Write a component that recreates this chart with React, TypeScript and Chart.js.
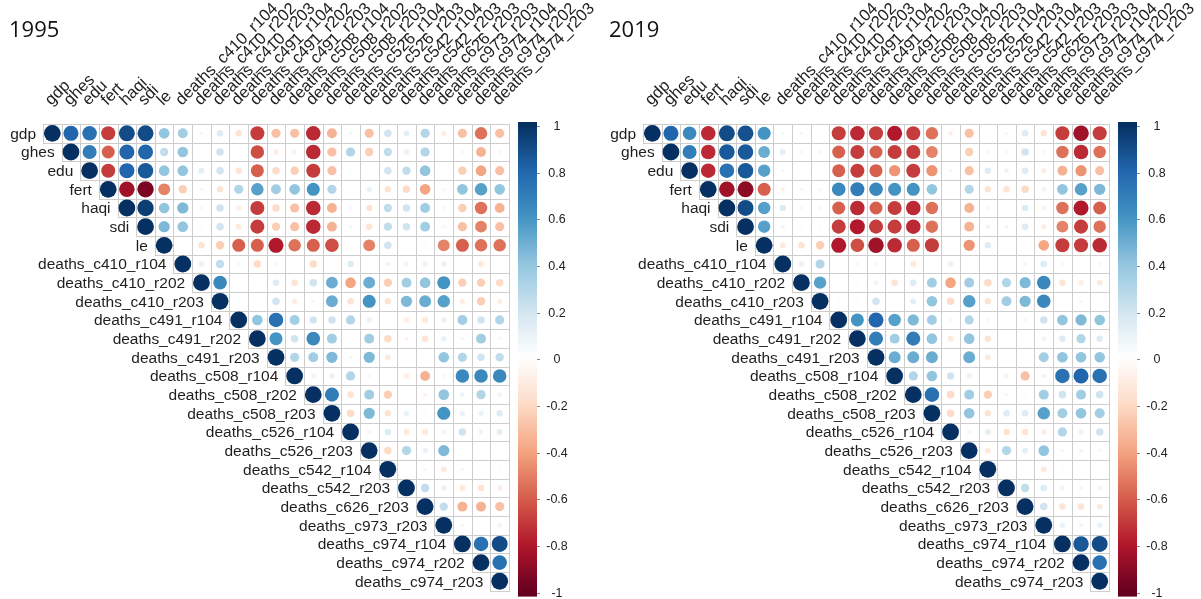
import React, { useEffect, useRef } from "react";
import { Chart, registerables } from "chart.js";

Chart.register(...registerables);

// ---------- data ----------
const variables = [
  "gdp", "ghes", "edu", "fert", "haqi", "sdi", "le",
  "deaths_c410_r104", "deaths_c410_r202", "deaths_c410_r203",
  "deaths_c491_r104", "deaths_c491_r202", "deaths_c491_r203",
  "deaths_c508_r104", "deaths_c508_r202", "deaths_c508_r203",
  "deaths_c526_r104", "deaths_c526_r203",
  "deaths_c542_r104", "deaths_c542_r203",
  "deaths_c626_r203", "deaths_c973_r203",
  "deaths_c974_r104", "deaths_c974_r202", "deaths_c974_r203",
];

const panelTitles = ["1995", "2019"];

const colorbarTicks = [1, 0.8, 0.6, 0.4, 0.2, 0, -0.2, -0.4, -0.6, -0.8, -1];

// Upper triangle rows; row i starts at its diagonal (column i).
const corr1995: number[][] = [
  [1, 0.8, 0.75, -0.7, 0.9, 0.9, 0.4, 0.35, 0.05, 0.15, -0.15, -0.7, -0.3, -0.3, -0.75, -0.35, 0.05, -0.3, 0.2, 0.12, 0.3, -0.1, -0.3, -0.55, -0.3],
  [1, 0.7, -0.6, 0.8, 0.8, 0.25, 0.4, 0.03, 0.2, -0.03, -0.65, -0.1, -0.08, -0.75, -0.3, 0.3, -0.25, 0.25, 0.1, 0.3, 0, -0.05, -0.35, -0.05],
  [1, -0.7, 0.8, 0.85, 0.4, 0.4, 0.12, 0.2, -0.15, -0.6, -0.2, -0.25, -0.7, -0.3, 0.03, 0, 0.2, 0.25, 0.4, 0, -0.25, -0.4, -0.3],
  [1, -0.85, -0.95, -0.5, -0.25, -0.05, -0.15, 0.3, 0.55, 0.35, 0.4, 0.6, 0.3, 0.02, 0.1, -0.15, -0.2, -0.4, 0.05, 0.4, 0.55, 0.4],
  [1, 0.95, 0.4, 0.45, 0.05, 0.2, -0.1, -0.7, -0.2, -0.3, -0.75, -0.35, 0.05, -0.15, 0.25, 0.2, 0.35, -0.05, -0.25, -0.55, -0.35],
  [1, 0.45, 0.4, 0.03, 0.2, -0.12, -0.7, -0.25, -0.3, -0.75, -0.35, 0.05, -0.15, 0.25, 0.2, 0.35, -0.05, -0.3, -0.5, -0.3],
  [1, 0, -0.15, -0.25, -0.6, -0.6, -0.8, -0.55, -0.6, -0.65, -0.03, -0.5, 0.2, 0, 0.03, -0.5, -0.6, -0.55, -0.55],
  [1, 0.1, 0.25, 0.05, -0.2, 0.05, 0, -0.2, 0, 0.15, 0, 0.07, 0.08, 0.1, 0.1, 0.03, -0.12, 0],
  [1, 0.65, 0.02, 0.02, 0.15, -0.15, 0.2, 0.5, -0.4, 0.5, -0.25, 0.35, 0.4, 0.6, -0.25, -0.25, -0.2],
  [1, 0.03, 0, 0.2, -0.1, 0.05, 0.5, -0.15, 0.6, -0.15, 0.45, 0.5, 0.55, -0.1, -0.25, -0.1],
  [1, 0.4, 0.75, 0.35, 0.2, 0.2, 0.3, 0.1, 0, -0.1, -0.12, 0.1, 0.35, 0.2, 0.3],
  [1, 0.6, 0.2, 0.65, 0.35, 0, 0.35, -0.2, -0.07, -0.15, 0.1, 0.05, 0.35, 0.05],
  [1, 0.3, 0.35, 0.45, 0.05, 0.45, -0.12, 0, -0.03, 0.4, 0.3, 0.2, 0.25],
  [1, 0.08, 0.1, 0.3, 0.05, 0.03, -0.1, -0.35, 0.05, 0.65, 0.65, 0.65],
  [1, 0.7, -0.15, 0.35, -0.25, 0, -0.07, 0.4, 0.08, 0.3, 0.08],
  [1, -0.2, 0.45, -0.15, 0.1, 0.03, 0.6, 0.1, 0.1, 0.15],
  [1, -0.07, 0.15, -0.12, -0.12, -0.07, 0.2, 0.08, 0.12],
  [1, -0.2, 0.3, 0.1, 0.45, 0, 0.02, 0],
  [1, -0.03, -0.05, -0.12, 0.05, 0, 0.03],
  [1, 0.25, 0.1, -0.12, -0.15, -0.1],
  [1, 0.25, -0.35, -0.35, -0.3],
  [1, 0.05, 0.02, 0.08],
  [1, 0.75, 0.9],
  [1, 0.75],
  [1],
];

const corr2019: number[][] = [
  [1, 0.8, 0.65, -0.75, 0.9, 0.88, 0.6, 0.05, 0.05, 0, -0.7, -0.75, -0.7, -0.8, -0.7, -0.55, -0.08, -0.3, 0, 0.05, 0.15, -0.15, -0.7, -0.85, -0.7],
  [1, 0.7, -0.75, 0.85, 0.85, 0.5, 0.12, 0.05, 0.05, -0.6, -0.7, -0.6, -0.7, -0.7, -0.5, 0, -0.25, 0.05, 0.05, 0.2, -0.05, -0.55, -0.75, -0.55],
  [1, -0.75, 0.75, 0.85, 0.55, 0.05, 0, 0, -0.6, -0.7, -0.6, -0.45, -0.7, -0.45, 0.05, -0.3, 0.15, 0.08, 0.15, -0.1, -0.35, -0.45, -0.3],
  [1, -0.85, -0.9, -0.6, -0.08, -0.05, -0.05, 0.65, 0.7, 0.65, 0.6, 0.6, 0.4, -0.03, 0.3, -0.15, -0.15, -0.2, 0.07, 0.4, 0.55, 0.45],
  [1, 0.9, 0.55, 0.15, 0.05, 0.05, -0.6, -0.75, -0.6, -0.7, -0.75, -0.55, 0, -0.35, 0.05, 0.03, 0.15, -0.07, -0.55, -0.8, -0.6],
  [1, 0.55, 0.07, 0.03, 0.03, -0.7, -0.8, -0.7, -0.7, -0.75, -0.55, 0, -0.35, 0.07, 0.07, 0.15, -0.1, -0.5, -0.7, -0.55],
  [1, -0.12, -0.15, -0.25, -0.8, -0.65, -0.85, -0.75, -0.6, -0.7, -0.03, -0.45, 0.15, 0, 0, -0.4, -0.7, -0.7, -0.75],
  [1, 0.1, 0.3, 0.03, -0.05, 0.05, 0, -0.12, 0, 0.1, 0.03, 0, 0, 0.07, 0.15, 0.05, 0.02, 0.05],
  [1, 0.55, 0, 0.03, 0.08, -0.15, 0.15, 0.35, -0.4, 0.35, -0.2, 0.3, 0.45, 0.65, -0.15, -0.1, -0.12],
  [1, 0.03, 0.03, 0.2, -0.03, 0.12, 0.4, -0.2, 0.55, -0.15, 0.35, 0.45, 0.65, 0, -0.05, 0],
  [1, 0.6, 0.8, 0.55, 0.45, 0.35, 0.05, 0.3, -0.05, -0.03, -0.05, 0.2, 0.4, 0.45, 0.4],
  [1, 0.7, 0.35, 0.7, 0.4, -0.12, 0.4, -0.15, 0, 0, 0.08, 0.15, 0.3, 0.15],
  [1, 0.5, 0.5, 0.5, 0, 0.5, -0.12, 0, 0, 0.35, 0.4, 0.4, 0.4],
  [1, 0.3, 0.4, 0.2, 0.1, 0, -0.08, -0.3, 0.07, 0.75, 0.8, 0.75],
  [1, 0.75, -0.2, 0.35, -0.25, 0.05, 0.03, 0.35, 0.2, 0.35, 0.2],
  [1, -0.2, 0.4, -0.15, 0.15, 0.15, 0.55, 0.35, 0.4, 0.35],
  [1, -0.07, 0.12, -0.15, -0.15, -0.1, 0.3, 0.1, 0.2],
  [1, -0.12, 0.3, 0.12, 0.4, 0.05, 0.07, 0.05],
  [1, 0, -0.03, -0.12, 0.03, 0, 0],
  [1, 0.25, 0.15, -0.08, -0.07, -0.07],
  [1, 0.2, -0.15, -0.15, -0.12],
  [1, 0.1, 0.07, 0.1],
  [1, 0.85, 0.9],
  [1, 0.75],
  [1],
];

// ---------- styling ----------
const RDBU = [
  "#67001F", "#B2182B", "#D6604D", "#F4A582", "#FDDBC7", "#FFFFFF",
  "#D1E5F0", "#92C5DE", "#4393C3", "#2166AC", "#053061",
];
const LABEL_FONT = '15.5px "Liberation Sans", Arial, sans-serif';
const COL_LABEL_FONT = '16.5px "Liberation Sans", Arial, sans-serif';
const TICK_FONT = '12.5px "Liberation Sans", Arial, sans-serif';
const TITLE_FONT = '22px "Open Sans", sans-serif';
const MAX_RADIUS = 8.4;

function hexToRgb(h: string) {
  const n = parseInt(h.slice(1), 16);
  return [(n >> 16) & 255, (n >> 8) & 255, n & 255];
}
const RDBU_RGB = RDBU.map(hexToRgb);

function colorFor(v: number) {
  const t = ((Math.max(-1, Math.min(1, v)) + 1) / 2) * (RDBU.length - 1);
  const i = Math.min(RDBU.length - 2, Math.floor(t));
  const f = t - i;
  const a = RDBU_RGB[i];
  const b = RDBU_RGB[i + 1];
  const c = a.map((x, k) => Math.round(x + (b[k] - x) * f));
  return `rgb(${c[0]},${c[1]},${c[2]})`;
}

function buildPoints(rows: number[][]) {
  const pts: { x: number; y: number; r: number; v: number }[] = [];
  rows.forEach((row, i) => {
    row.forEach((v, k) => {
      const j = i + k;
      pts.push({ x: j, y: i, r: Math.sqrt(Math.abs(v)) * MAX_RADIUS, v });
    });
  });
  return pts;
}

const corrDecor = {
  id: "corrDecor",
  beforeDatasetsDraw(chart: any) {
    const { ctx } = chart;
    const xs = chart.scales.x;
    const ys = chart.scales.y;
    const n = variables.length;
    ctx.save();
    ctx.strokeStyle = "#cdcdcd";
    ctx.lineWidth = 1;
    for (let i = 0; i < n; i++) {
      for (let j = i; j < n; j++) {
        const x0 = Math.round(xs.getPixelForValue(j - 0.5)) + 0.5;
        const x1 = Math.round(xs.getPixelForValue(j + 0.5)) + 0.5;
        const y0 = Math.round(ys.getPixelForValue(i - 0.5)) + 0.5;
        const y1 = Math.round(ys.getPixelForValue(i + 0.5)) + 0.5;
        ctx.strokeRect(x0, y0, x1 - x0, y1 - y0);
      }
    }
    ctx.restore();
  },
  afterDraw(chart: any, _args: any, opts: any) {
    const { ctx, chartArea } = chart;
    const xs = chart.scales.x;
    const ys = chart.scales.y;
    const cb = chart.scales.cb;
    ctx.save();

    // title
    ctx.fillStyle = "#111";
    ctx.font = TITLE_FONT;
    ctx.textAlign = "left";
    ctx.textBaseline = "alphabetic";
    ctx.fillText(opts.title, 9, 37);

    // row labels (next to the diagonal)
    ctx.font = LABEL_FONT;
    ctx.fillStyle = "#1e1e1e";
    ctx.textAlign = "right";
    ctx.textBaseline = "middle";
    variables.forEach((name, i) => {
      const x = xs.getPixelForValue(i - 0.5) - 7;
      const y = ys.getPixelForValue(i) + 1;
      ctx.fillText(name, x, y);
    });

    // column labels rotated 45 degrees
    ctx.font = COL_LABEL_FONT;
    ctx.textAlign = "left";
    ctx.textBaseline = "alphabetic";
    const topY = ys.getPixelForValue(-0.5);
    variables.forEach((name, j) => {
      const x = xs.getPixelForValue(j) - 1;
      ctx.save();
      ctx.translate(x, topY - 18);
      ctx.rotate(-Math.PI / 4);
      ctx.fillText(name, 0, 0);
      ctx.restore();
    });

    // colour bar
    const left = chartArea.right + 9;
    const w = 19;
    const top = cb.getPixelForValue(1) - 2;
    const bottom = cb.getPixelForValue(-1) + 6;
    const grad = ctx.createLinearGradient(0, cb.getPixelForValue(1), 0, cb.getPixelForValue(-1));
    RDBU.slice().reverse().forEach((c, k) => grad.addColorStop(k / (RDBU.length - 1), c));
    ctx.fillStyle = grad;
    ctx.fillRect(left, top, w, bottom - top);

    ctx.strokeStyle = "#888";
    ctx.lineWidth = 1;
    ctx.font = TICK_FONT;
    ctx.fillStyle = "#222";
    ctx.textAlign = "center";
    ctx.textBaseline = "middle";
    colorbarTicks.forEach((v) => {
      const y = Math.round(cb.getPixelForValue(v) + 2) + 0.5;
      ctx.beginPath();
      ctx.moveTo(left + w, y);
      ctx.lineTo(left + w + 3, y);
      ctx.stroke();
      ctx.fillText(String(v), left + w + 20, y);
    });
    ctx.restore();
  },
};

function CorrPanel({ title, rows, width }: { title: string; rows: number[][]; width: number }) {
  const ref = useRef<HTMLCanvasElement | null>(null);
  useEffect(() => {
    if (!ref.current) return;
    const chart = new Chart(ref.current, {
      type: "bubble",
      data: {
        datasets: [
          {
            data: buildPoints(rows) as any,
            backgroundColor: (c: any) => colorFor(c.raw ? c.raw.v : 0),
            borderWidth: 0,
            clip: false as any,
          },
        ],
      },
      options: {
        animation: false,
        responsive: false,
        devicePixelRatio: 1,
        events: [],
        layout: { padding: { left: 43, right: width - 509, top: 124, bottom: 8 } },
        plugins: {
          legend: { display: false },
          tooltip: { enabled: false },
          corrDecor: { title },
        } as any,
        scales: {
          x: { type: "linear", min: -0.5, max: 24.5, display: false },
          y: { type: "linear", min: -0.5, max: 24.5, reverse: true, display: false },
          cb: { type: "linear", axis: "y", position: "right", min: -1, max: 1, display: false },
        },
      },
      plugins: [corrDecor as any],
    });
    return () => chart.destroy();
  }, [title, rows, width]);
  return <canvas ref={ref} width={width} height={599} style={{ display: "block", width, height: 599 }} />;
}

export default function App() {
  return (
    <div style={{ position: "absolute", left: 0, top: 0, width: 1201, height: 599, overflow: "hidden", background: "#fff" }}>
      <style>{`html,body{margin:0;padding:0;overflow:hidden;background:#fff}`}</style>
      <div style={{ position: "absolute", left: 0, top: 0 }}>
        <CorrPanel title={panelTitles[0]} rows={corr1995} width={600} />
      </div>
      <div style={{ position: "absolute", left: 600, top: 0 }}>
        <CorrPanel title={panelTitles[1]} rows={corr2019} width={601} />
      </div>
    </div>
  );
}
